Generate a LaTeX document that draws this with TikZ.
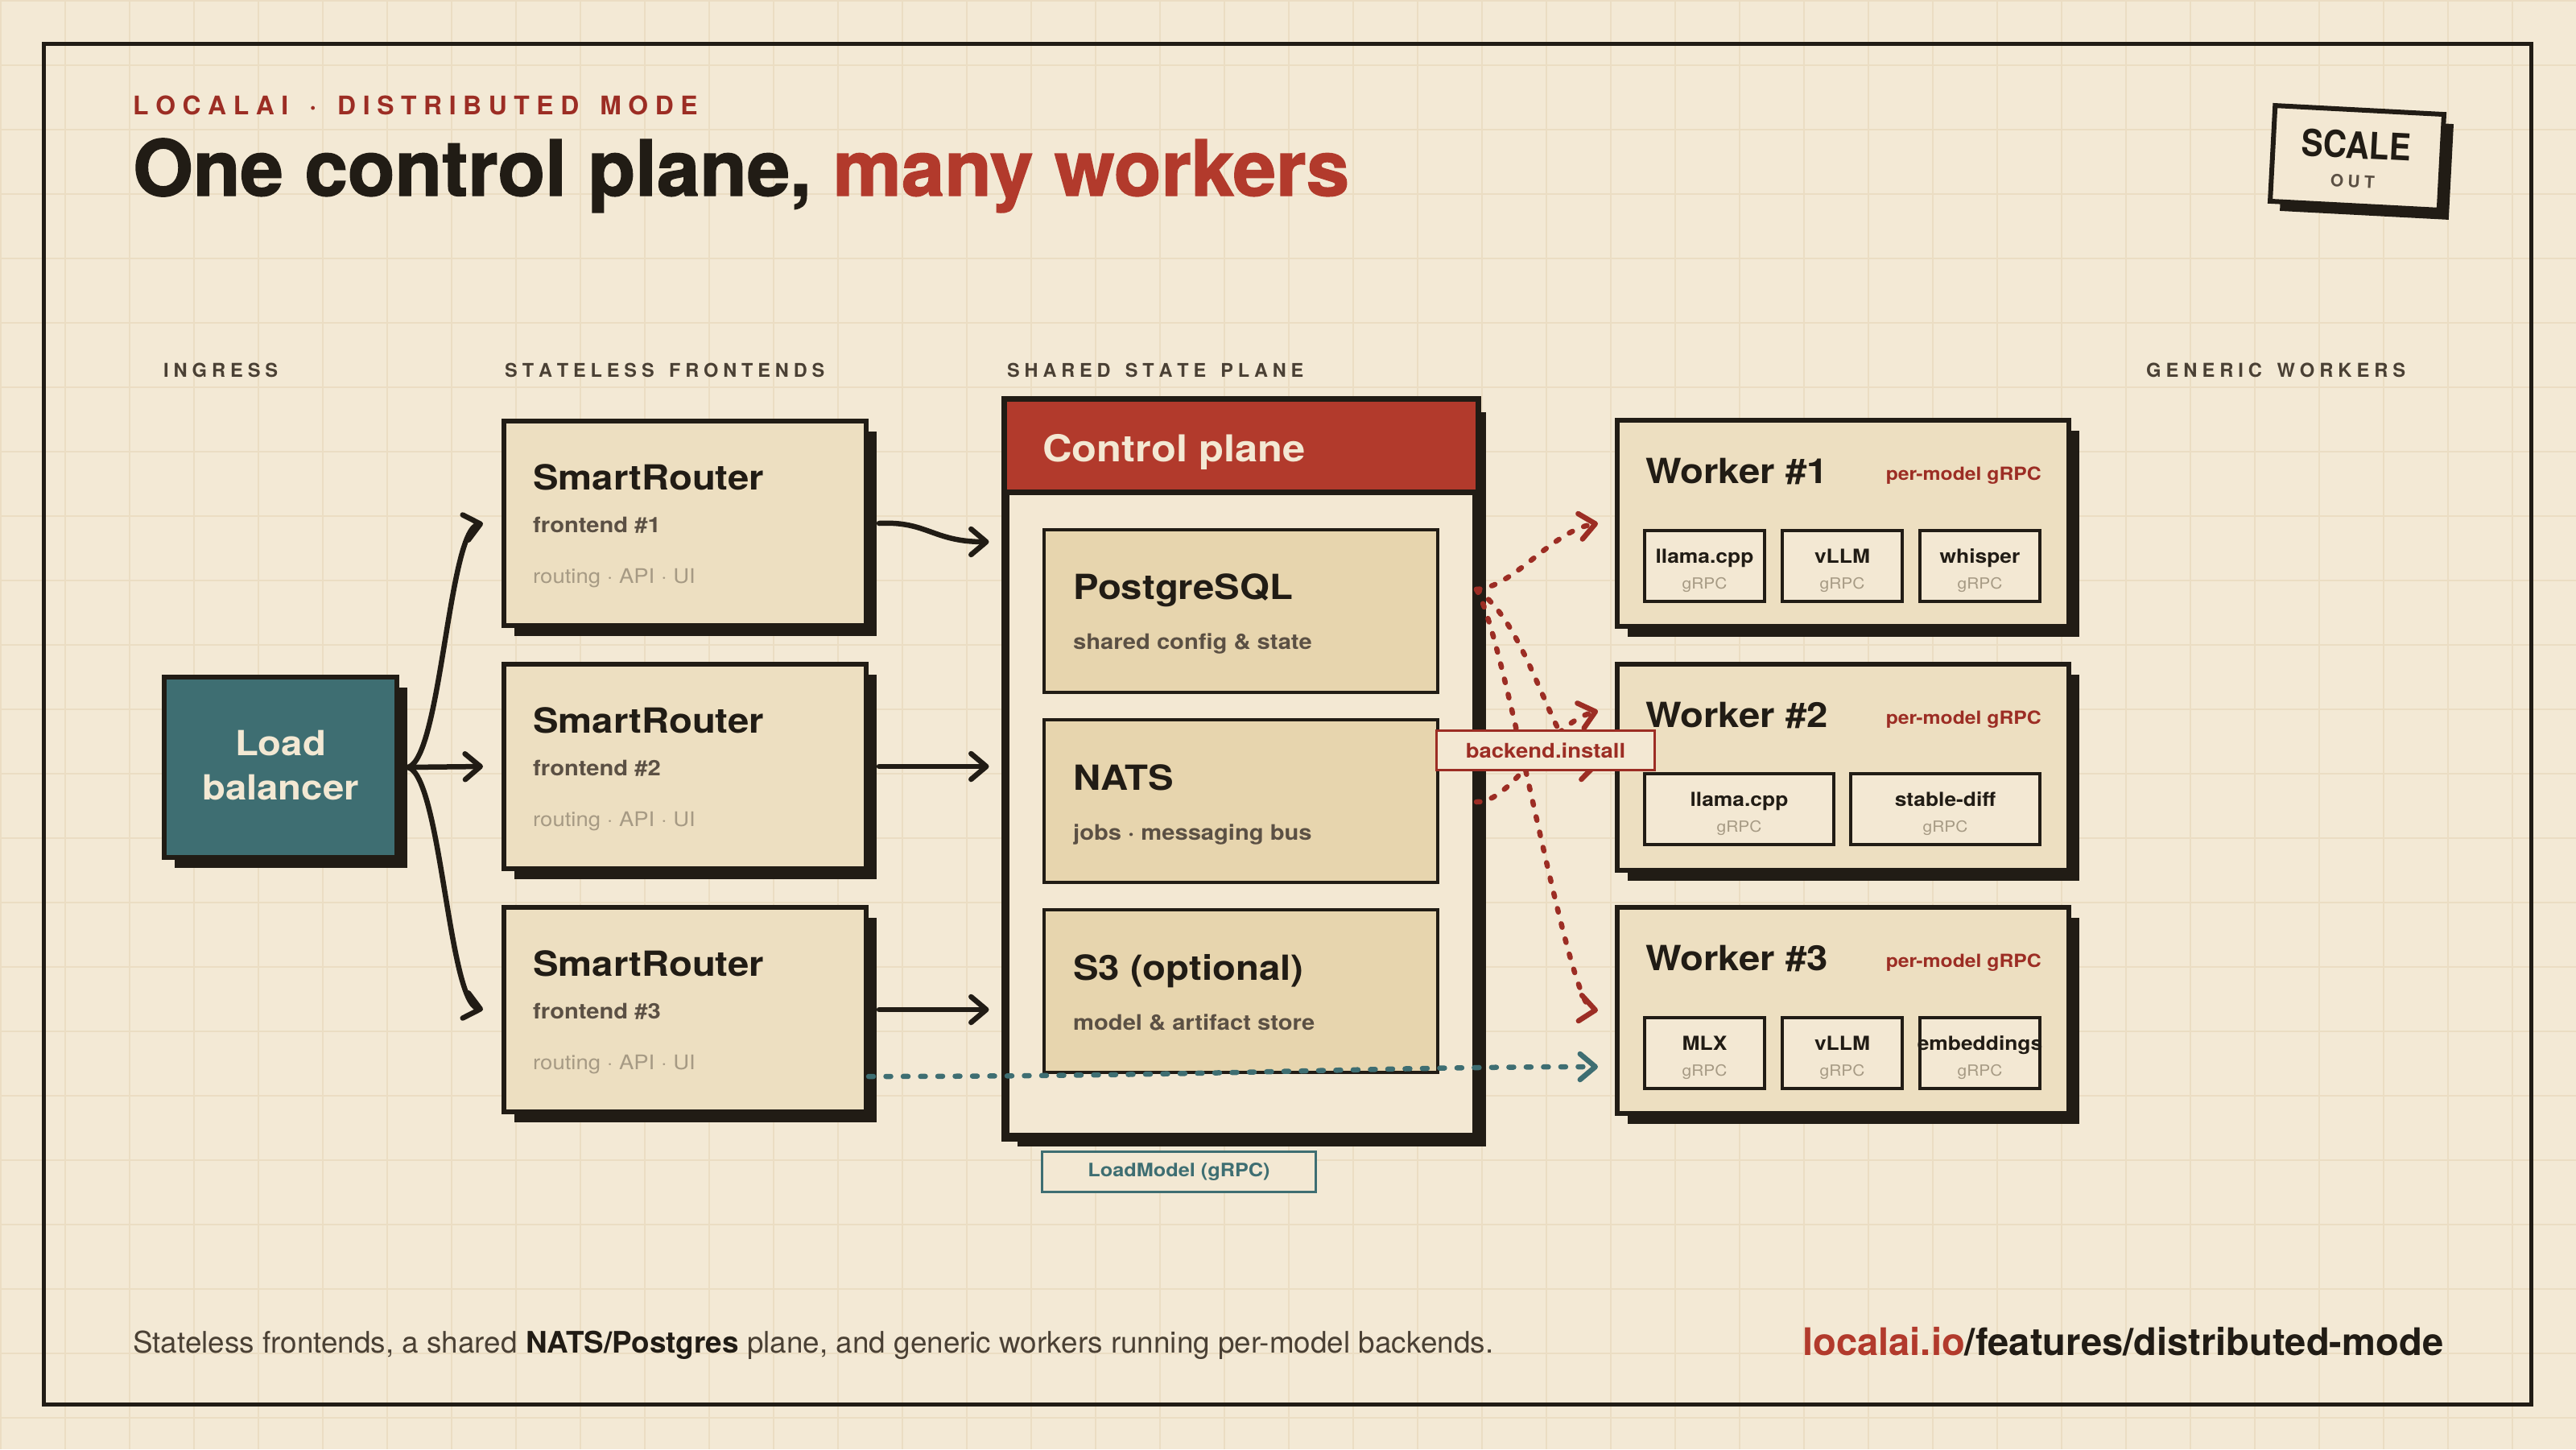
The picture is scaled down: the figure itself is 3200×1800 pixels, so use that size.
\documentclass[tikz,border=0pt]{standalone}
\usepackage{fontspec}
\usepackage{graphicx}
\setmainfont{TeX Gyre Heros}
\newfontfamily\wf[FakeStretch=1.1]{TeX Gyre Heros}
\newfontfamily\titlef[BoldFeatures={FakeBold=1.5}]{TeX Gyre Heros}
\usetikzlibrary{arrows.meta,shadows}
\newcommand\fsz[1]{\fontsize{#1}{#1}\selectfont}
\def\lsk{\kern\lskern\relax}
\def\lsloop#1{\ifx#1\relax\else#1\lsk\expandafter\lsloop\fi}
\newcommand\ls[2]{\def\lskern{#1}\lsloop#2\relax}
\definecolor{paperc}{HTML}{F3E9D5}
\definecolor{gridc}{HTML}{EBDDC3}
\definecolor{ink}{HTML}{211C15}
\definecolor{cardc}{HTML}{EDDFC1}
\definecolor{innerc}{HTML}{E7D5AE}
\definecolor{lightc}{HTML}{F3E8D3}
\definecolor{brick}{HTML}{B23A2C}
\definecolor{brickd}{HTML}{9C2D24}
\definecolor{tealc}{HTML}{3E6E72}
\definecolor{mute}{HTML}{A69A84}
\definecolor{subc}{HTML}{5B5044}
\definecolor{labc}{HTML}{4A4034}
\begin{document}
\begin{tikzpicture}[x=1pt,y=-1pt,
  shad/.style={drop shadow={shadow xshift=13pt,shadow yshift=-13pt,opacity=1,fill=ink}},
  card/.style={draw=ink,line width=6pt,fill=cardc,inner sep=0pt,shad},
  ibox/.style={draw=ink,line width=4.5pt,fill=innerc,inner sep=0pt,minimum width=489pt,minimum height=202pt},
  sbox/.style={draw=ink,line width=4pt,fill=lightc,inner sep=0pt,minimum height=88pt},
  txt/.style={anchor=base west,inner sep=0pt},
  head/.style={txt,text=ink,font=\wf\bfseries\fsz{43}},
  subt/.style={txt,text=subc,font=\wf\bfseries\fsz{26.5}},
  mutet/.style={txt,text=mute,font=\wf\fsz{25}},
  lab/.style={txt,text=labc,font=\bfseries\fsz{24}},
  pm/.style={anchor=base east,inner sep=0pt,text=brickd,font=\wf\bfseries\fsz{22.5}},
  bname/.style={anchor=base,inner sep=0pt,text=ink,font=\wf\bfseries\fsz{24}},
  bgrpc/.style={anchor=base,inner sep=0pt,text=mute,font=\wf\fsz{19}},
  chev/.style={-{Straight Barb[length=19pt,width=32pt,round]}},
  arr/.style={draw=ink,line width=6.5pt,line cap=round,chev},
  rdash/.style={draw=brickd,line width=6.5pt,line cap=round,dash pattern=on 4.5pt off 15pt,chev},
  tdash/.style={draw=tealc,line width=6.5pt,line cap=round,dash pattern=on 6pt off 15.5pt,chev}
]
\useasboundingbox (0,0) rectangle (3200,1800);
\fill[paperc] (0,0) rectangle (3200,1800);
\foreach \i in {0,...,40} {\draw[gridc,line width=2pt] ({80*\i+1},0) -- ({80*\i+1},1800);}
\foreach \j in {0,...,22} {\draw[gridc,line width=2pt] (0,{80*\j+1}) -- (3200,{80*\j+1});}
\draw[ink,line width=5.5pt] (54.5,54.5) rectangle (3144.5,1744.5);

% header texts
\node[txt,text=brickd,font=\bfseries\fsz{32}] (kicker) at (165,142) {\resizebox{710pt}{!}{\ls{0.27em}{LOCALAI~·~DISTRIBUTED~MODE}}};
\node[txt,text=ink,font=\titlef\bfseries\fsz{93}] (title) at (165,243) {\resizebox{1511pt}{!}{One control plane, \textcolor{brick}{many workers}}};

% column labels
\node[lab] (colin) at (203,468) {\resizebox{148pt}{!}{\ls{0.25em}{INGRESS}}};
\node[lab] (colfe) at (627,468) {\resizebox{403pt}{!}{\ls{0.25em}{STATELESS~FRONTENDS}}};
\node[lab] (colst) at (1251,468) {\resizebox{374pt}{!}{\ls{0.25em}{SHARED~STATE~PLANE}}};
\node[lab] (colwk) at (2666,468) {\resizebox{328pt}{!}{\ls{0.25em}{GENERIC~WORKERS}}};

% load balancer
\node[card,fill=tealc,minimum width=289pt,minimum height=224pt] (lb) at (348.5,953) {};
\node[align=center,inner sep=0pt,text=lightc,font=\wf\bfseries\fontsize{43}{55}\selectfont] (lbt) at (348.5,951) {Load\\balancer};

% smart routers
\foreach \n/\y/\k in {sr1/650/1,sr2/952/2,sr3/1254/3} {
  \node[card,minimum width=450pt,minimum height=254pt] (\n) at (851,\y) {};
  \node[head] (\n t) at (662,\y-42) {SmartRouter};
  \node[subt] (\n s) at (662,\y+11) {frontend \#\k};
  \node[mutet] (\n m) at (662,\y+74) {routing · API · UI};
}

% control plane
\node[card,fill=lightc,line width=7pt,minimum width=582pt,minimum height=912pt] (cp) at (1541.5,954.5) {};
\coordinate (hb) at (0,611.5);
\fill[brick] (cp.north west) rectangle (cp.east |- hb);
\draw[ink,line width=7pt] (cp.west |- hb) -- (cp.east |- hb);
\draw[ink,line width=7pt] (cp.north west) rectangle (cp.south east);
\node[txt,text=lightc,font=\wf\bfseries\fsz{46}] (cpt) at (1295,573) {Control plane};

\node[ibox] (pg) at (1541.5,759) {};
\node[head] (pgt) at (1333,744) {PostgreSQL};
\node[subt] (pgs) at (1333,806) {shared config \& state};
\node[ibox] (nats) at (1541.5,995) {};
\node[head] (natst) at (1333,981) {NATS};
\node[subt] (natss) at (1333,1043) {jobs · messaging bus};
\node[ibox] (s3) at (1541.5,1231) {};
\node[head] (s3t) at (1333,1217) {S3 (optional)};
\node[subt] (s3s) at (1333,1279) {model \& artifact store};

% workers
\foreach \n/\y/\k in {w1/650/1,w2/953/2,w3/1255/3} {
  \node[card,minimum width=561pt,minimum height=256pt] (\n) at (2289.5,\y) {};
  \node[head] (\n t) at (2044,\y-50) {Worker \#\k};
  \node[pm] (\n p) at (2536,\y-54) {per-model gRPC};
}
\foreach \n/\x/\y/\name in {a1/2117.5/703/llama.cpp,a2/2288.5/703/vLLM,a3/2459.5/703/whisper,
                            c1/2117.5/1308/MLX,c2/2288.5/1308/vLLM,c3/2459.5/1308/embeddings} {
  \node[sbox,minimum width=149pt] (\n) at (\x,\y) {};
  \node[bname] (\n n) at (\x,\y-4) {\name};
  \node[bgrpc] (\n g) at (\x,\y+28) {gRPC};
}
\foreach \n/\x/\name in {b1/2160.5/llama.cpp,b2/2416.5/stable-diff} {
  \node[sbox,minimum width=235pt] (\n) at (\x,1005) {};
  \node[bname] (\n n) at (\x,1001) {\name};
  \node[bgrpc] (\n g) at (\x,1033) {gRPC};
}

% black connectors
\draw[arr] ([xshift=11pt]lb.east) .. controls +(41,-12) and +(-43,10) .. ([xshift=-23pt]sr1.west);
\draw[arr] ([xshift=11pt]lb.east) -- ([xshift=-23pt]sr2.west);
\draw[arr] ([xshift=11pt]lb.east) .. controls +(41,12) and +(-43,-10) .. ([xshift=-23pt]sr3.west);
\draw[arr] ([xshift=13pt]sr1.east) .. controls +(60,-3) and +(-70,0) .. ([xshift=-18.5pt,yshift=281.5pt]cp.west);
\draw[arr] ([xshift=13pt]sr2.east) -- ([xshift=-18.5pt]cp.west |- sr2.east);
\draw[arr] ([xshift=13pt]sr3.east) -- ([xshift=-18.5pt]cp.west |- sr3.east);

% red dashed backend.install
\coordinate (pgout) at (1834,732);
\coordinate (natsout) at (1834,996);
\draw[rdash] (pgout) .. controls +(46,-2) and +(-58,10) .. ([xshift=-21pt]w1.west);
\draw[rdash] (pgout) .. controls +(71,48) and +(-53,5) .. ([xshift=-21pt,yshift=3pt]w2.west);
\draw[rdash] (pgout) .. controls +(36,58) and +(-38,-5) .. ([xshift=-21pt]w3.west);
\draw[rdash] (natsout) .. controls +(44,2) and +(-63,17) .. ([xshift=-21pt,yshift=70pt]w2.west);
\node[draw=brickd,line width=3.5pt,fill=lightc,minimum width=271pt,minimum height=49pt,inner sep=0pt,text=brickd,font=\wf\bfseries\fsz{25}] (bi) at (1920,932) {backend.install};

% teal LoadModel
\draw[tdash] ([yshift=-83pt]sr3.east) .. controls +(424,0) and +(-288,0) .. ([xshift=-21pt,yshift=-70pt]w3.west);
\node[draw=tealc,line width=3.5pt,fill=lightc,minimum width=340pt,minimum height=50pt,inner sep=0pt,text=tealc,font=\wf\bfseries\fsz{23}] (lm) at (1464.5,1455.5) {LoadModel (gRPC)};

% badge
\node[draw=ink,line width=6pt,fill=lightc,minimum width=210pt,minimum height=119pt,rotate=-3,
  drop shadow={shadow xshift=12pt,shadow yshift=-12pt,opacity=1,fill=ink}] (badge) at (2928,196) {};
\node[rotate=-3,inner sep=0pt,text=ink,font=\bfseries\fsz{46}] (scale) at (2927,180) {\scalebox{0.88}[1]{SCALE}};
\node[rotate=-3,inner sep=0pt,text=subc,font=\bfseries\fsz{21}] (out) at (2925,225) {\ls{0.25em}{OUT}};

% footer
\node[txt,text=labc,font=\fsz{33}] (foot) at (165,1680) {\resizebox{1690pt}{!}{Stateless frontends, a shared \textbf{\textcolor{ink}{NATS/Postgres}} plane, and generic workers running per-model backends.}};
\node[txt,text=ink,font=\bfseries\fsz{42}] (url) at (2239,1683) {\resizebox{796pt}{!}{\textcolor{brick}{localai.io}/features/distributed-mode}};
\end{tikzpicture}
\end{document}
